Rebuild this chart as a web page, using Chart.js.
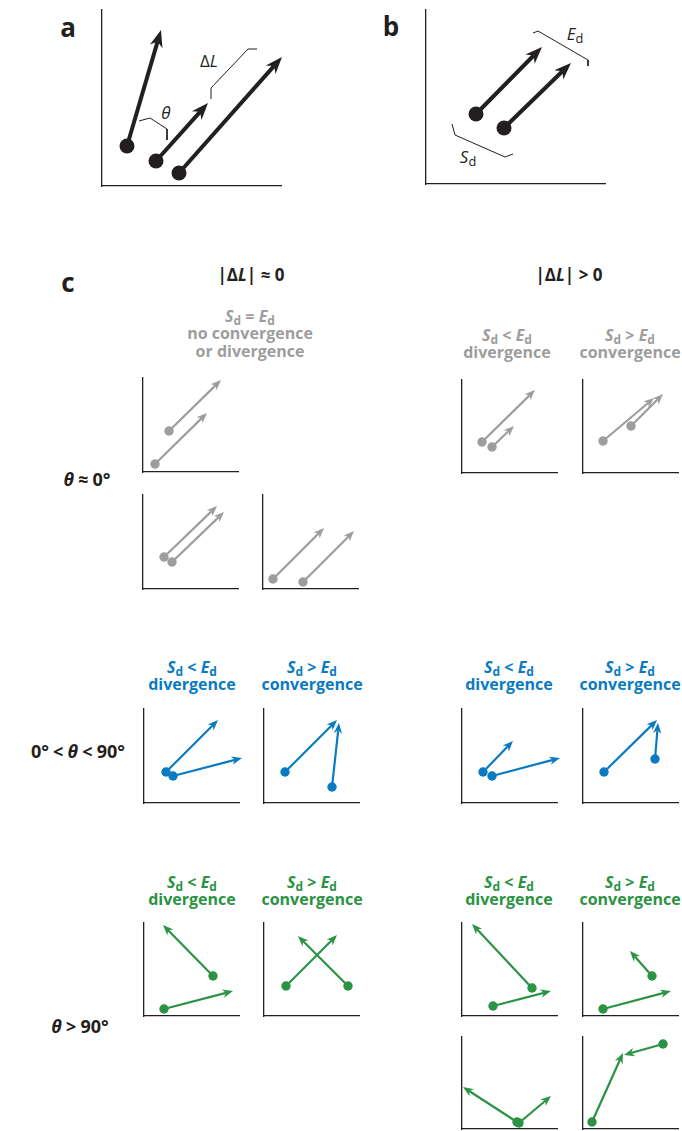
<!DOCTYPE html>
<html>
<head>
<meta charset="utf-8">
<script src="https://cdn.jsdelivr.net/npm/chart.js@4.4.1/dist/chart.umd.min.js"></script>
<style>
  html, body { margin: 0; padding: 0; background: #fff; overflow: hidden; }
  body { position: relative; width: 682px; height: 1131px; font-family: "Open Sans", sans-serif; color: #231f20; }
  canvas { position: absolute; }
  .lbl { position: absolute; transform: translate(-50%, -50%); white-space: nowrap; line-height: 1; }
  .panel { font-weight: 700; font-size: 26px; }
  .head { font-weight: 700; font-size: 17px; }
  .side { font-weight: 700; font-size: 18px; word-spacing: -0.5px; }
  .sub { font-weight: 700; font-size: 16px; }
  .note { font-size: 17px; }
  .gray { color: #9d9d9d; }
  .blue { color: #0a7bc2; }
  .green { color: #2b9343; }
  i { font-style: italic; }
  sub { font-size: 75%; vertical-align: -0.25em; line-height: 0; font-style: normal; }
</style>
</head>
<body>

<div class="lbl panel" style="left:68px; top:27px;">a</div>
<div class="lbl panel" style="left:391px; top:26px;">b</div>
<div class="lbl panel" style="left:68px; top:282px;">c</div>

<div class="lbl note" style="left:166px; top:112px;"><i>θ</i></div>
<div class="lbl note" style="left:209px; top:60px;">Δ<i>L</i></div>
<div class="lbl note" style="left:575px; top:33px;"><i>E</i><sub>d</sub></div>
<div class="lbl note" style="left:468px; top:156px;"><i>S</i><sub>d</sub></div>

<div class="lbl head" style="left:251px; top:274px;">|Δ<i>L</i>| ≈ 0</div>
<div class="lbl head" style="left:569px; top:274px;">|Δ<i>L</i>| &gt; 0</div>

<div class="lbl sub gray" style="left:250px; top:316px;"><i>S</i><sub>d</sub> = <i>E</i><sub>d</sub></div>
<div class="lbl sub gray" style="left:250px; top:333px;">no convergence</div>
<div class="lbl sub gray" style="left:250px; top:351px;">or divergence</div>
<div class="lbl sub gray" style="left:507px; top:335px;"><i>S</i><sub>d</sub> &lt; <i>E</i><sub>d</sub></div>
<div class="lbl sub gray" style="left:507px; top:352px;">divergence</div>
<div class="lbl sub gray" style="left:630px; top:335px;"><i>S</i><sub>d</sub> &gt; <i>E</i><sub>d</sub></div>
<div class="lbl sub gray" style="left:630px; top:352px;">convergence</div>

<div class="lbl sub blue" style="left:192px; top:667px;"><i>S</i><sub>d</sub> &lt; <i>E</i><sub>d</sub></div>
<div class="lbl sub blue" style="left:192px; top:684px;">divergence</div>
<div class="lbl sub blue" style="left:312px; top:667px;"><i>S</i><sub>d</sub> &gt; <i>E</i><sub>d</sub></div>
<div class="lbl sub blue" style="left:312px; top:684px;">convergence</div>
<div class="lbl sub blue" style="left:509px; top:667px;"><i>S</i><sub>d</sub> &lt; <i>E</i><sub>d</sub></div>
<div class="lbl sub blue" style="left:509px; top:684px;">divergence</div>
<div class="lbl sub blue" style="left:630px; top:667px;"><i>S</i><sub>d</sub> &gt; <i>E</i><sub>d</sub></div>
<div class="lbl sub blue" style="left:630px; top:684px;">convergence</div>

<div class="lbl sub green" style="left:192px; top:882px;"><i>S</i><sub>d</sub> &lt; <i>E</i><sub>d</sub></div>
<div class="lbl sub green" style="left:192px; top:899px;">divergence</div>
<div class="lbl sub green" style="left:312px; top:882px;"><i>S</i><sub>d</sub> &gt; <i>E</i><sub>d</sub></div>
<div class="lbl sub green" style="left:312px; top:899px;">convergence</div>
<div class="lbl sub green" style="left:509px; top:882px;"><i>S</i><sub>d</sub> &lt; <i>E</i><sub>d</sub></div>
<div class="lbl sub green" style="left:509px; top:899px;">divergence</div>
<div class="lbl sub green" style="left:630px; top:882px;"><i>S</i><sub>d</sub> &gt; <i>E</i><sub>d</sub></div>
<div class="lbl sub green" style="left:630px; top:899px;">convergence</div>

<div class="lbl side" style="left:87px; top:479px;"><i>θ</i> ≈ 0°</div>
<div class="lbl side" style="left:78px; top:751px;">0° &lt; <i>θ</i> &lt; 90°</div>
<div class="lbl side" style="left:80px; top:1026px;"><i>θ</i> &gt; 90°</div>

<script>
// arrows: [startX, startY, endX, endY], measured from each panel's axis corner
const ARROWS_A = [[25, 40, 59, 156], [54, 25, 106, 83], [77, 13, 180, 129]];
const THETA_BRACKET = [[37, 65], [48, 68], [65, 57], [65, 46]];
const DL_BRACKET = [[109, 87], [109, 98], [146, 137], [155, 137]];
const ARROWS_B = [[50, 70, 116, 137], [78, 56, 145, 121]];
const ED_BRACKET = [[107, 151], [112, 153], [162, 124], [162, 118]];
const SD_BRACKET = [[26, 60], [29, 49], [79, 27], [87, 30]];

const GRAY_EQ_1 = [[26, 41, 78, 92], [12, 8, 64, 59]];
const GRAY_EQ_2 = [[21, 32, 74, 83], [29, 27, 81, 77]];
const GRAY_EQ_3 = [[10, 10, 61, 61], [40, 7, 91, 58]];
const GRAY_DIV = [[20, 31, 73, 83], [30, 26, 52, 47]];
const GRAY_CONV = [[20, 32, 71, 75], [48, 47, 80, 79]];

const BLUE_EQ_DIV = [[22, 31, 74, 83], [29, 27, 98, 45]];
const BLUE_EQ_CONV = [[21, 31, 73, 83], [68, 16, 75, 80]];
const BLUE_GT_DIV = [[21, 31, 51, 62], [30, 27, 98, 45]];
const BLUE_GT_CONV = [[21, 31, 74, 83], [72, 44, 75, 80]];

const GREEN_EQ_DIV = [[69, 40, 19, 91], [20, 7, 89, 25]];
const GREEN_EQ_CONV = [[22, 30, 73, 81], [84, 30, 34, 80]];
const GREEN_GT_DIV = [[70, 28, 10, 92], [31, 10, 89, 25]];
const GREEN_GT_CONV = [[69, 40, 47, 65], [20, 7, 88, 25]];
const GREEN_GT_DIV_2 = [[55, 7, 1, 42], [57, 6, 89, 33]];
const GREEN_GT_CONV_2 = [[80, 85, 41, 74], [9, 7, 40, 76]];

const INK = '#231f20';
const PAD = 14;

const BIG = { color: INK, width: 4, head: 17, half: 6.5, dot: 7.5 };
const GRAY = { color: '#9d9d9d', width: 2.2, head: 10.5, half: 4.2, dot: 4.7 };
const BLUE = { ...GRAY, color: '#0a7bc2' };
const GREEN = { ...GRAY, color: '#2b9343' };

function arrowPlugin(arrows, st) {
  return {
    id: 'arrows',
    afterDatasetsDraw(chart) {
      const { ctx, scales: { x, y } } = chart;
      ctx.save();
      ctx.strokeStyle = st.color;
      ctx.fillStyle = st.color;
      ctx.lineWidth = st.width;
      arrows.forEach(([x0, y0, x1, y1]) => {
        const ax = x.getPixelForValue(x0), ay = y.getPixelForValue(y0);
        const bx = x.getPixelForValue(x1), by = y.getPixelForValue(y1);
        const len = Math.hypot(bx - ax, by - ay);
        const ux = (bx - ax) / len, uy = (by - ay) / len;
        const nx = -uy, ny = ux;
        const neck = st.head * 0.7;
        ctx.beginPath();
        ctx.moveTo(ax, ay);
        ctx.lineTo(bx - ux * neck, by - uy * neck);
        ctx.stroke();
        ctx.beginPath();
        ctx.moveTo(bx, by);
        ctx.lineTo(bx - ux * st.head + nx * st.half, by - uy * st.head + ny * st.half);
        ctx.lineTo(bx - ux * neck, by - uy * neck);
        ctx.lineTo(bx - ux * st.head - nx * st.half, by - uy * st.head - ny * st.half);
        ctx.closePath();
        ctx.fill();
      });
      ctx.restore();
    }
  };
}

function bracket(points) {
  return {
    data: points.map(p => ({ x: p[0], y: p[1] })),
    showLine: true,
    borderColor: INK,
    borderWidth: 1,
    pointRadius: 0,
    clip: false
  };
}

function panel(box, arrows, st, extra) {
  const cv = document.createElement('canvas');
  cv.width = box.w + PAD * 2;
  cv.height = box.h + PAD * 2;
  cv.style.left = (box.left - PAD) + 'px';
  cv.style.top = (box.top - PAD) + 'px';
  document.body.appendChild(cv);

  const axis = (max) => ({
    type: 'linear', min: 0, max: max,
    grid: { display: false, drawTicks: false },
    ticks: { display: false },
    border: { display: true, color: INK, width: 1.3 }
  });

  new Chart(cv.getContext('2d'), {
    type: 'scatter',
    data: {
      datasets: [{
        data: arrows.map(a => ({ x: a[0], y: a[1] })),
        pointRadius: st.dot,
        pointBackgroundColor: st.color,
        pointBorderWidth: 0,
        clip: false
      }, ...(extra || []).map(bracket)]
    },
    options: {
      responsive: false,
      animation: false,
      events: [],
      layout: { padding: PAD },
      scales: { x: axis(box.w), y: axis(box.h) },
      plugins: { legend: { display: false }, tooltip: { enabled: false } }
    },
    plugins: [arrowPlugin(arrows, st)]
  });
}

panel({ left: 102, top: 10, w: 179, h: 176 }, ARROWS_A, BIG, [THETA_BRACKET, DL_BRACKET]);
panel({ left: 426, top: 10, w: 179, h: 174 }, ARROWS_B, BIG, [ED_BRACKET, SD_BRACKET]);

panel({ left: 143, top: 378, w: 95, h: 94 }, GRAY_EQ_1, GRAY);
panel({ left: 143, top: 495, w: 95, h: 94 }, GRAY_EQ_2, GRAY);
panel({ left: 263, top: 495, w: 95, h: 94 }, GRAY_EQ_3, GRAY);
panel({ left: 462, top: 380, w: 95, h: 93 }, GRAY_DIV, GRAY);
panel({ left: 583, top: 380, w: 95, h: 93 }, GRAY_CONV, GRAY);

panel({ left: 144, top: 709, w: 95, h: 94 }, BLUE_EQ_DIV, BLUE);
panel({ left: 264, top: 709, w: 95, h: 94 }, BLUE_EQ_CONV, BLUE);
panel({ left: 462, top: 709, w: 95, h: 94 }, BLUE_GT_DIV, BLUE);
panel({ left: 583, top: 709, w: 95, h: 94 }, BLUE_GT_CONV, BLUE);

panel({ left: 144, top: 923, w: 95, h: 93 }, GREEN_EQ_DIV, GREEN);
panel({ left: 264, top: 923, w: 95, h: 93 }, GREEN_EQ_CONV, GREEN);
panel({ left: 462, top: 923, w: 95, h: 93 }, GREEN_GT_DIV, GREEN);
panel({ left: 583, top: 923, w: 95, h: 93 }, GREEN_GT_CONV, GREEN);
panel({ left: 462, top: 1037, w: 95, h: 92 }, GREEN_GT_DIV_2, GREEN);
panel({ left: 583, top: 1037, w: 95, h: 92 }, GREEN_GT_CONV_2, GREEN);
</script>
</body>
</html>
